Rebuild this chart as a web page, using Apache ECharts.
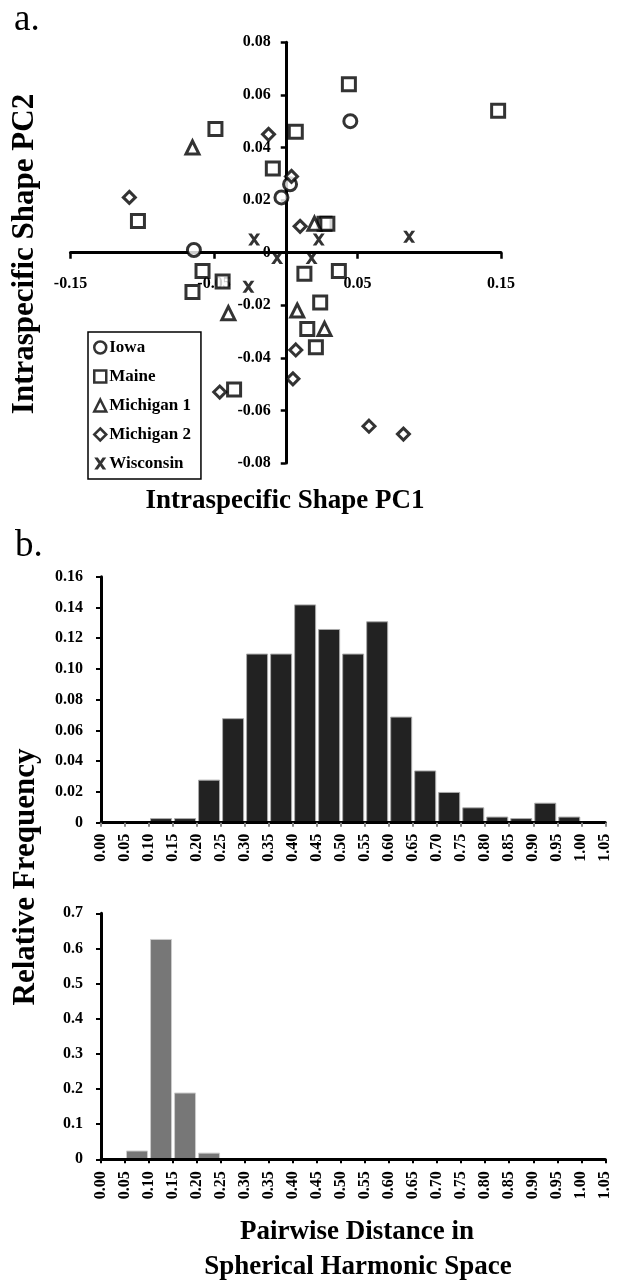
<!DOCTYPE html>
<html>
<head>
<meta charset="utf-8">
<script src="https://cdn.jsdelivr.net/npm/echarts@6/dist/echarts.min.js"></script>
<style>
  html, body { margin: 0; padding: 0; background: #fff; }
  #chart { width: 624px; height: 1280px; }
</style>
</head>
<body>
<div id="chart"></div>
<script>
// a. PCA scores per population [PC1, PC2]
var iowa = [[-0.064, 0.001], [-0.003, 0.021], [0.003, 0.026], [0.045, 0.050]];
var maine = [
  [-0.049, 0.047], [0.007, 0.046], [-0.009, 0.032], [-0.103, 0.012],
  [-0.058, -0.007], [-0.044, -0.011], [-0.065, -0.015], [0.013, -0.008],
  [0.044, 0.064], [0.148, 0.054], [0.027, 0.011], [0.029, 0.011],
  [0.037, -0.007], [0.024, -0.019], [0.015, -0.029], [0.021, -0.036],
  [-0.036, -0.052]
];
var michigan1 = [[-0.065, 0.040], [0.020, 0.011], [-0.040, -0.023], [0.008, -0.022], [0.027, -0.029]];
var michigan2 = [
  [-0.012, 0.045], [0.004, 0.029], [-0.109, 0.021], [0.010, 0.010],
  [-0.046, -0.053], [0.007, -0.037], [0.005, -0.048], [0.058, -0.066], [0.082, -0.069]
];
var wisconsin = [[-0.022, 0.005], [-0.006, -0.002], [0.018, -0.002], [0.023, 0.005], [-0.026, -0.013], [0.086, 0.006]];

// b. histogram bins (lower edges) and relative frequencies
var binStarts = [0.00, 0.05, 0.10, 0.15, 0.20, 0.25, 0.30, 0.35, 0.40, 0.45, 0.50,
                 0.55, 0.60, 0.65, 0.70, 0.75, 0.80, 0.85, 0.90, 0.95, 1.00];
var amongFreq = [0.001, 0.001, 0.003, 0.003, 0.028, 0.068, 0.110, 0.110, 0.142, 0.126, 0.110,
                 0.131, 0.069, 0.034, 0.020, 0.010, 0.004, 0.003, 0.013, 0.004, 0.001];
var withinFreq = [0, 0.025, 0.627, 0.190, 0.019, 0, 0, 0, 0, 0, 0,
                  0, 0, 0, 0, 0, 0, 0, 0, 0, 0];

var FONT = '"Liberation Serif", "Times New Roman", serif';
var xPath = 'path://M0,0 L3.6,0 L6,3.4 L8.4,0 L12,0 L7.8,6 L12,12 L8.4,12 L6,8.6 L3.6,12 L0,12 L4.2,6 Z';

function bins(freq) {
  return binStarts.map(function (b, i) { return [b + 0.025, freq[i]]; });
}

function hollow(name, symbol, size, data) {
  return {
    name: name, type: 'scatter', xAxisIndex: 0, yAxisIndex: 0,
    symbol: symbol, symbolSize: size, data: data,
    itemStyle: { color: '#fff', borderColor: '#000', borderWidth: 3 }
  };
}

var tickLabel = { fontFamily: FONT, fontWeight: 'bold', color: '#000' };
var legendHollow = { color: '#fff', borderColor: '#000', borderWidth: 2.5 };

var option = {
  animation: false,
  grid: [
    { left: 70.5, width: 430.5, top: 42.3, height: 420.7 },
    { left: 101, width: 504.3, top: 576.7, height: 246 },
    { left: 101, width: 504.3, top: 913.3, height: 246 }
  ],
  legend: {
    orient: 'vertical', left: 88, top: 332,
    padding: [7, 10, 7, 5], itemGap: 12, itemWidth: 12, itemHeight: 12,
    borderColor: '#000', borderWidth: 1.5, backgroundColor: '#fff',
    textStyle: { fontFamily: FONT, fontWeight: 'bold', fontSize: 17, color: '#000', padding: [0, 0, 0, -2] },
    data: [
      { name: 'Iowa', icon: 'circle', itemStyle: legendHollow },
      { name: 'Maine', icon: 'rect', itemStyle: legendHollow },
      { name: 'Michigan 1', icon: 'triangle', itemStyle: legendHollow },
      { name: 'Michigan 2', icon: 'diamond', itemStyle: legendHollow },
      { name: 'Wisconsin', icon: xPath, itemStyle: { color: '#000', borderWidth: 0 } }
    ]
  },
  xAxis: [
    {
      type: 'value', gridIndex: 0, min: -0.15, max: 0.15, interval: 0.1,
      position: 'bottom', offset: -210.35,
      splitLine: { show: false },
      axisLine: { onZero: false, lineStyle: { color: '#000', width: 3 } },
      axisTick: { length: 6, lineStyle: { color: '#000', width: 2.5 } },
      axisLabel: Object.assign({ fontSize: 16, margin: 23, formatter: function (v) { return v.toFixed(2); } }, tickLabel)
    },
    {
      type: 'value', gridIndex: 1, min: 0, max: 1.05, interval: 0.05, z: 3,
      splitLine: { show: false },
      axisLine: { lineStyle: { color: '#000', width: 3 } },
      axisTick: { length: 4, lineStyle: { color: '#888', width: 2 } },
      axisLabel: Object.assign({ fontSize: 16, margin: 11, rotate: 90, showMaxLabel: true, formatter: function (v) { return v.toFixed(2); } }, tickLabel)
    },
    {
      type: 'value', gridIndex: 2, min: 0, max: 1.05, interval: 0.05, z: 3,
      splitLine: { show: false },
      axisLine: { lineStyle: { color: '#000', width: 3 } },
      axisTick: { length: 4, lineStyle: { color: '#000', width: 2 } },
      axisLabel: Object.assign({ fontSize: 16, margin: 12, rotate: 90, showMaxLabel: true, formatter: function (v) { return v.toFixed(2); } }, tickLabel)
    }
  ],
  yAxis: [
    {
      type: 'value', gridIndex: 0, min: -0.08, max: 0.08, interval: 0.02,
      position: 'left', offset: -215.25,
      splitLine: { show: false },
      axisLine: { onZero: false, lineStyle: { color: '#000', width: 3 } },
      axisTick: { length: 5, lineStyle: { color: '#000', width: 2.5 } },
      axisLabel: Object.assign({ fontSize: 16, margin: 15, formatter: function (v) { return Math.abs(v) < 1e-9 ? '0' : v.toFixed(2); } }, tickLabel)
    },
    {
      type: 'value', gridIndex: 1, min: 0, max: 0.16, interval: 0.02,
      splitLine: { show: false },
      axisLine: { show: true, lineStyle: { color: '#000', width: 3 } },
      axisTick: { show: true, length: 5, lineStyle: { color: '#000', width: 2 } },
      axisLabel: Object.assign({ fontSize: 16, margin: 18, formatter: function (v) { return v === 0 ? '0' : v.toFixed(2); } }, tickLabel)
    },
    {
      type: 'value', gridIndex: 2, min: 0, max: 0.7, interval: 0.1,
      splitLine: { show: false },
      axisLine: { show: true, lineStyle: { color: '#000', width: 3 } },
      axisTick: { show: true, length: 5, lineStyle: { color: '#000', width: 2 } },
      axisLabel: Object.assign({ fontSize: 16, margin: 18, formatter: function (v) { return v === 0 ? '0' : v.toFixed(1); } }, tickLabel)
    }
  ],
  series: [
    hollow('Iowa', 'circle', 13, iowa),
    hollow('Maine', 'rect', 13, maine),
    hollow('Michigan 1', 'triangle', 13, michigan1),
    hollow('Michigan 2', 'diamond', 12, michigan2),
    {
      name: 'Wisconsin', type: 'scatter', xAxisIndex: 0, yAxisIndex: 0,
      symbol: xPath, symbolSize: 12, data: wisconsin,
      itemStyle: { color: '#000' }
    },
    {
      name: 'among', type: 'bar', xAxisIndex: 1, yAxisIndex: 1,
      data: bins(amongFreq), barWidth: 22,
      itemStyle: { color: '#222', borderColor: '#aaa', borderWidth: 1 }
    },
    {
      name: 'within', type: 'bar', xAxisIndex: 2, yAxisIndex: 2,
      data: bins(withinFreq), barWidth: 22,
      itemStyle: { color: '#777', borderColor: '#ccc', borderWidth: 1 }
    }
  ],
  graphic: [
    { type: 'text', x: 14, y: 20, style: { text: 'a.', font: '37px ' + FONT, fill: '#000', textVerticalAlign: 'middle' } },
    { type: 'text', x: 15, y: 546, style: { text: 'b.', font: '37px ' + FONT, fill: '#000', textVerticalAlign: 'middle' } },
    { type: 'text', x: 285, y: 501, style: { text: 'Intraspecific Shape PC1', font: 'bold 27px ' + FONT, fill: '#000', textAlign: 'center', textVerticalAlign: 'middle' } },
    { type: 'text', x: 25, y: 254, rotation: Math.PI / 2, style: { text: 'Intraspecific Shape PC2', font: 'bold 31px ' + FONT, fill: '#000', textAlign: 'center', textVerticalAlign: 'middle' } },
    { type: 'text', x: 26, y: 877, rotation: Math.PI / 2, style: { text: 'Relative Frequency', font: 'bold 31px ' + FONT, fill: '#000', textAlign: 'center', textVerticalAlign: 'middle' } },
    { type: 'text', x: 357, y: 1232, style: { text: 'Pairwise Distance in', font: 'bold 27px ' + FONT, fill: '#000', textAlign: 'center', textVerticalAlign: 'middle' } },
    { type: 'text', x: 358, y: 1267, style: { text: 'Spherical Harmonic Space', font: 'bold 27px ' + FONT, fill: '#000', textAlign: 'center', textVerticalAlign: 'middle' } }
  ]
};

var myChart = echarts.init(document.getElementById('chart'));
myChart.setOption(option);
</script>
</body>
</html>
